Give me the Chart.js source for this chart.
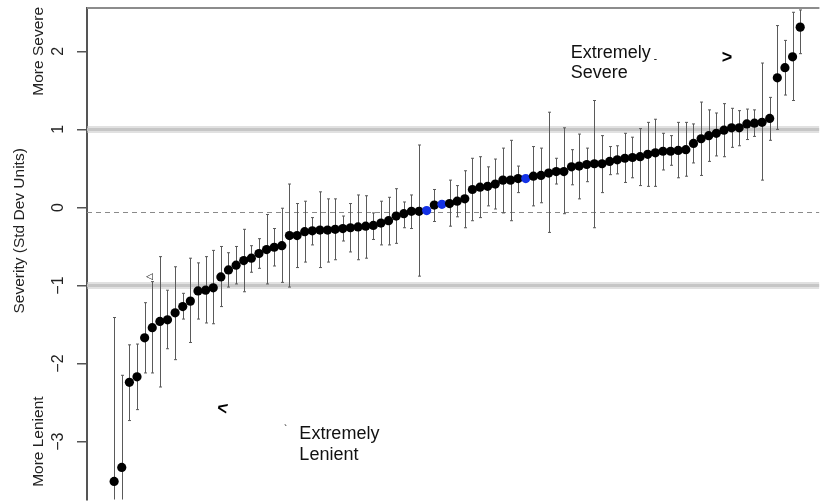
<!DOCTYPE html>
<html>
<head>
<meta charset="utf-8">
<script src="https://cdn.jsdelivr.net/npm/chart.js@4"></script>
<style>
  html, body { margin: 0; padding: 0; background: #fff; }
  #wrap { width: 824px; height: 504px; position: relative; }
</style>
</head>
<body>
<div id="wrap"><canvas id="chart"></canvas></div>
<script>
// severity estimate per rater, sorted low -> high
const estimate = [
  -3.51, -3.33, -2.24, -2.17, -1.67, -1.54, -1.46, -1.44, -1.35, -1.27,
  -1.20, -1.07, -1.06, -1.03, -0.89, -0.80, -0.74, -0.68, -0.65, -0.59,
  -0.54, -0.51, -0.49, -0.36, -0.36, -0.31, -0.30, -0.29, -0.29, -0.28,
  -0.27, -0.26, -0.25, -0.24, -0.23, -0.20, -0.17, -0.11, -0.08, -0.05,
  -0.05, -0.04, 0.03, 0.04, 0.05, 0.08, 0.11, 0.23, 0.26, 0.27,
  0.30, 0.35, 0.35, 0.37, 0.37, 0.40, 0.41, 0.44, 0.46, 0.46,
  0.52, 0.53, 0.55, 0.56, 0.56, 0.59, 0.61, 0.63, 0.64, 0.65,
  0.68, 0.70, 0.72, 0.72, 0.73, 0.74, 0.82, 0.88, 0.92, 0.95,
  0.99, 1.02, 1.02, 1.07, 1.08, 1.09, 1.14, 1.66, 1.79, 1.93,
  2.31
];
// interval ends (null = no bar drawn)
const upper = [
  -1.41, -2.15, -1.76, -1.75, -1.22, -0.95, -0.63, -1.06, -0.76, -1.10,
  -0.65, -0.71, -0.63, -0.55, -0.50, -0.58, -0.50, -0.28, -0.49, -0.40,
  -0.09, -0.27, -0.01, 0.30, 0.05, 0.08, -0.13, 0.20, 0.11, 0.11,
  -0.11, 0.05, 0.16, 0.15, -0.07, 0.08, 0.13, 0.24, 0.07, 0.16,
  0.80, null, 0.23, null, 0.35, 0.28, 0.47, 0.63, 0.65, 0.52,
  0.62, 0.76, 0.86, 0.53, null, 0.78, 0.76, 1.22, 0.63, 1.02,
  0.74, 0.94, 0.76, 1.37, 0.92, 0.78, 0.79, 0.95, 0.90, 1.01,
  1.09, 1.13, 0.95, 0.92, 1.09, 1.09, 1.07, 1.35, 1.25, 1.21,
  1.33, 1.27, 1.24, 1.26, 1.25, 1.85, 1.41, 2.33, 2.14, 2.50,
  2.53
];
const lower = [
  -5.60, -4.50, -2.73, -2.59, -2.12, -2.12, -2.30, -1.81, -1.95, -1.43,
  -1.73, -1.43, -1.48, -1.49, -1.27, -1.02, -0.98, -1.08, -0.83, -0.78,
  -0.98, -0.75, -0.96, -1.02, -0.77, -0.70, -0.48, -0.77, -0.70, -0.67,
  -0.43, -0.57, -0.67, -0.65, -0.41, -0.48, -0.48, -0.46, -0.26, -0.27,
  -0.88, null, -0.18, null, -0.24, -0.12, -0.26, -0.17, -0.13, 0.02,
  -0.02, -0.07, -0.17, 0.19, null, 0.02, 0.06, -0.32, 0.30, -0.08,
  0.29, 0.11, 0.33, -0.26, 0.19, 0.42, 0.43, 0.32, 0.38, 0.28,
  0.27, 0.27, 0.48, 0.54, 0.38, 0.40, 0.57, 0.41, 0.59, 0.66,
  0.65, 0.77, 0.79, 0.87, 0.91, 0.35, 0.86, 1.00, 1.44, 1.37,
  1.97
];
const bluePoints = [42, 44, 55];           // 1-based rank positions drawn in blue
const yTicks = [-3, -2, -1, 0, 1, 2];
const yTickLabels = ["\u22123", "\u22122", "\u22121", "0", "1", "2"];
const bandLines = [1, -1];
const meanLine = -0.06;

const points = estimate.map((v, i) => ({ x: i + 1, y: v }));
const pointColors = estimate.map((v, i) => bluePoints.includes(i + 1) ? "#1432e6" : "#000");

const FONT = "'Liberation Sans', Arial, Helvetica, sans-serif";

// reference lines + interval bars, under the points
const backdrop = {
  id: "backdrop",
  beforeDatasetsDraw(chart) {
    const { ctx, chartArea: a, scales: { x, y } } = chart;
    ctx.save();
    ctx.beginPath();
    ctx.rect(a.left, a.top, a.right - a.left, a.bottom - a.top);
    ctx.clip();

    bandLines.forEach(v => {
      const py = y.getPixelForValue(v);
      ctx.strokeStyle = "rgba(200,200,200,0.55)";
      ctx.lineWidth = 7;
      ctx.beginPath(); ctx.moveTo(a.left, py); ctx.lineTo(a.right, py); ctx.stroke();
      ctx.strokeStyle = "#c6c6c6";
      ctx.lineWidth = 3;
      ctx.beginPath(); ctx.moveTo(a.left, py); ctx.lineTo(a.right, py); ctx.stroke();
    });

    const my = Math.round(y.getPixelForValue(meanLine)) + 0.5;
    ctx.strokeStyle = "#8a8a8a";
    ctx.lineWidth = 1;
    ctx.setLineDash([5, 4]);
    ctx.beginPath(); ctx.moveTo(a.left, my); ctx.lineTo(a.right, my); ctx.stroke();
    ctx.setLineDash([]);

    ctx.strokeStyle = "#5a5a5a";
    ctx.lineWidth = 1;
    estimate.forEach((v, i) => {
      if (upper[i] == null) return;
      const px = Math.round(x.getPixelForValue(i + 1)) + 0.5;
      const top = y.getPixelForValue(upper[i]);
      const bot = y.getPixelForValue(lower[i]);
      ctx.beginPath();
      ctx.moveTo(px, top); ctx.lineTo(px, bot);
      ctx.moveTo(px - 1.5, top); ctx.lineTo(px + 1.5, top);
      ctx.moveTo(px - 1.5, bot); ctx.lineTo(px + 1.5, bot);
      ctx.stroke();
    });
    ctx.restore();
  }
};

const vText = (ctx, text, cx, cy) => {
  ctx.save();
  ctx.translate(cx, cy);
  ctx.rotate(-Math.PI / 2);
  ctx.fillText(text, 0, 0);
  ctx.restore();
};

// frame, rotated axis text and annotations
const decorations = {
  id: "decorations",
  afterDraw(chart) {
    const { ctx, chartArea: a, scales: { x, y } } = chart;
    ctx.save();
    ctx.strokeStyle = "#8c8c8c";
    ctx.lineWidth = 2;
    ctx.beginPath(); ctx.moveTo(a.left, a.top); ctx.lineTo(a.right, a.top); ctx.stroke();

    ctx.fillStyle = "#222";
    ctx.textAlign = "center";
    ctx.textBaseline = "middle";
    ctx.font = "16px " + FONT;
    yTicks.forEach((t, i) => vText(ctx, yTickLabels[i], 59, y.getPixelForValue(t)));

    ctx.font = "15.5px " + FONT;
    vText(ctx, "More Severe", 39, y.getPixelForValue(2));
    vText(ctx, "More Lenient", 39, y.getPixelForValue(-3));
    vText(ctx, "Severity (Std Dev Units)", 20, y.getPixelForValue(-0.3));

    ctx.textAlign = "left";
    ctx.textBaseline = "alphabetic";
    ctx.font = "18px " + FONT;
    ctx.fillStyle = "#111";
    const sx = x.getPixelForValue(60.9);
    ctx.fillText("Extremely", sx, y.getPixelForValue(1.92));
    ctx.fillText("Severe", sx, y.getPixelForValue(1.654));
    const lx = x.getPixelForValue(25.3);
    ctx.fillText("Extremely", lx, y.getPixelForValue(-2.966));
    ctx.fillText("Lenient", lx, y.getPixelForValue(-3.232));

    // stray arrow glyphs
    ctx.font = "bold 18px " + FONT;
    ctx.fillStyle = "#000";
    ctx.textAlign = "center";
    ctx.textBaseline = "middle";
    ctx.fillText(">", x.getPixelForValue(81.4), y.getPixelForValue(1.91));
    ctx.save();
    ctx.translate(x.getPixelForValue(15.2), y.getPixelForValue(-2.58));
    ctx.rotate(0.2);
    ctx.fillText("<", 0, 0);
    ctx.restore();
    ctx.font = "10px " + FONT;
    ctx.fillText("-", x.getPixelForValue(72.0), y.getPixelForValue(1.9));
    ctx.fillText("`", x.getPixelForValue(23.5), y.getPixelForValue(-2.86));
    ctx.font = "9px " + FONT;
    ctx.fillText("\u25C1", x.getPixelForValue(5.65), y.getPixelForValue(-0.88));
    ctx.restore();
  }
};

new Chart(document.getElementById("chart"), {
  type: "scatter",
  data: {
    datasets: [{
      data: points,
      backgroundColor: pointColors,
      borderWidth: 0,
      pointRadius: 4.6,
      pointHoverRadius: 4.6
    }]
  },
  options: {
    responsive: true,
    maintainAspectRatio: false,
    animation: false,
    events: [],
    layout: { padding: { top: 8, right: 0, bottom: 0, left: 0 } },
    plugins: { legend: { display: false }, tooltip: { enabled: false } },
    scales: {
      x: { type: "linear", display: false, min: -2.56, max: 93.52 },
      y: {
        type: "linear",
        min: -3.74,
        max: 2.555,
        afterBuildTicks: s => { s.ticks = yTicks.map(v => ({ value: v })); },
        afterFit: s => { s.width = 87; },
        ticks: { display: false },
        grid: { drawOnChartArea: false, drawTicks: true, tickLength: 10, color: "#555", lineWidth: 1.5 },
        border: { display: true, color: "#555", width: 2 }
      }
    }
  },
  plugins: [backdrop, decorations]
});
</script>
</body>
</html>
